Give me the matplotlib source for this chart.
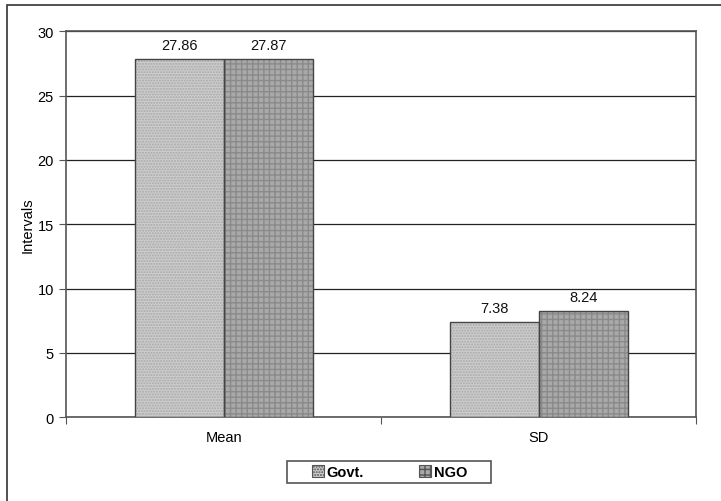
import matplotlib
matplotlib.use("Agg")
import matplotlib.pyplot as plt
import numpy as np
from matplotlib.patches import Rectangle

plt.rcParams['font.family'] = ['Liberation Sans', 'DejaVu Sans']

categories = ["Mean", "SD"]
series_names = ["Govt.", "NGO"]
govt = [27.86, 7.38]
ngo = [27.87, 8.24]
y_ticks = [0, 5, 10, 15, 20, 25, 30]

fig = plt.figure(figsize=(7.21, 5.02), dpi=100)
fig.patch.set_facecolor("white")

# outer chart frame
fig.add_artist(Rectangle((0.0097, -0.01), 1.0, 0.998, transform=fig.transFigure,
                         fill=False, edgecolor="#333333", linewidth=1.2))

ax = fig.add_axes([0.0922, 0.1673, 0.8738, 0.768])

x = np.arange(len(categories))
w = 0.283
styles = [
    dict(face="#cdcdcd", hatch="......", hcolor="#a8a8a8"),
    dict(face="#a9a9a9", hatch="+++", hcolor="#8a8a8a"),
]
for i, (vals, st) in enumerate(zip([govt, ngo], styles)):
    pos = x + (i - 0.5) * w
    ax.bar(pos, vals, width=w, color=st["face"], hatch=st["hatch"],
           edgecolor=st["hcolor"], linewidth=0, zorder=3)
    ax.bar(pos, vals, width=w, fill=False, edgecolor="#444444",
           linewidth=1.0, zorder=4)
    for p, v in zip(pos, vals):
        ax.text(p, v + 0.55, f"{v:.2f}", ha="center", va="bottom",
                fontsize=10.5, color="#111111", zorder=5)

ax.set_xlim(-0.5, 1.5)
ax.set_ylim(0, 30)
ax.set_yticks(y_ticks)
ax.set_yticklabels([str(t) for t in y_ticks], fontsize=10.5)
ax.yaxis.grid(True, color="#222222", linewidth=0.9, zorder=0)
ax.set_axisbelow(True)

ax.set_xticks([-0.5, 0.5, 1.5])
ax.set_xticklabels([])
ax.set_xticks(x, minor=True)
ax.set_xticklabels(categories, minor=True, fontsize=10.5)
ax.tick_params(axis="x", which="minor", length=0, pad=9)
ax.tick_params(axis="x", which="major", length=5, direction="out", color="#555555")
ax.tick_params(axis="y", length=5, direction="out", color="#555555", pad=4)

for s in ax.spines.values():
    s.set_color("#555555")
    s.set_linewidth(1.2)

ax.set_ylabel("Intervals", fontsize=10.5, labelpad=2)

# legend: entries without frame, plus a wide box drawn around them
handles = [Rectangle((0, 0), 1, 1, facecolor=st["face"], hatch=st["hatch"],
                     edgecolor="#555555", linewidth=0.8) for st in styles]
leg = fig.legend(handles, series_names, loc="center", bbox_to_anchor=(0.540, 0.0578),
                 ncol=2, frameon=False,
                 handlelength=0.85, handleheight=0.85, handletextpad=0.15,
                 columnspacing=3.8, borderpad=0.2, prop={"weight": "bold", "size": 10.5})
fig.add_artist(Rectangle((0.398, 0.0359), 0.283, 0.0438, transform=fig.transFigure,
                         fill=False, edgecolor="#555555", linewidth=1.2))

fig.savefig("out.png", dpi=100, facecolor="white")
